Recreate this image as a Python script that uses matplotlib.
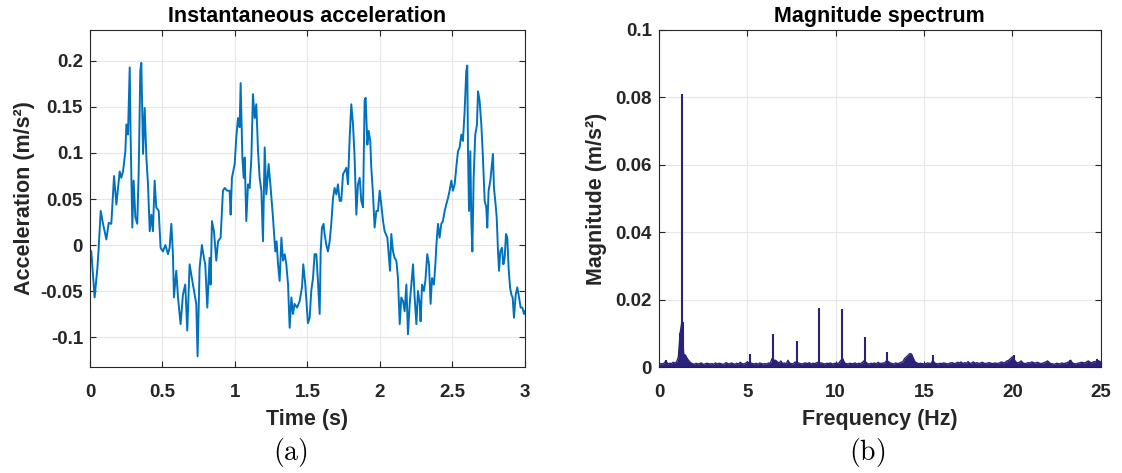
import numpy as np
import matplotlib.pyplot as plt

plt.rcParams['font.family'] = ['Liberation Sans', 'DejaVu Sans']
plt.rcParams['mathtext.fontset'] = 'cm'

# (a) acceleration
t_s = [0.000, 0.009, 0.032, 0.051, 0.060, 0.074, 0.090, 0.113, 0.129, 0.147,
       0.166, 0.182, 0.205, 0.216, 0.228, 0.244, 0.251, 0.262, 0.274, 0.280,
       0.292, 0.301, 0.313, 0.326, 0.336, 0.347, 0.354, 0.366, 0.377, 0.389,
       0.400, 0.412, 0.423, 0.434, 0.446, 0.457, 0.474, 0.487, 0.503, 0.520,
       0.538, 0.549, 0.561, 0.572, 0.579, 0.595, 0.607, 0.625, 0.641, 0.657,
       0.671, 0.687, 0.710, 0.733, 0.742, 0.756, 0.772, 0.786, 0.795, 0.809,
       0.825, 0.832, 0.841, 0.855, 0.871, 0.883, 0.901, 0.917, 0.929, 0.947,
       0.963, 0.970, 0.979, 0.998, 1.009, 1.021, 1.032, 1.039, 1.051, 1.060,
       1.067, 1.078, 1.090, 1.101, 1.113, 1.124, 1.136, 1.147, 1.159, 1.170,
       1.182, 1.193, 1.205, 1.216, 1.232, 1.246, 1.262, 1.278, 1.287, 1.297,
       1.308, 1.320, 1.331, 1.343, 1.354, 1.366, 1.377, 1.389, 1.400, 1.411,
       1.428, 1.446, 1.462, 1.471, 1.485, 1.503, 1.515, 1.526, 1.538, 1.549,
       1.561, 1.572, 1.584, 1.591, 1.600, 1.611, 1.618, 1.630, 1.641, 1.653,
       1.664, 1.676, 1.687, 1.699, 1.710, 1.722, 1.733, 1.745, 1.756, 1.768,
       1.779, 1.791, 1.802, 1.814, 1.825, 1.837, 1.848, 1.860, 1.871, 1.883,
       1.894, 1.901, 1.913, 1.922, 1.933, 1.940, 1.952, 1.963, 1.975, 1.986,
       1.998, 2.009, 2.021, 2.032, 2.051, 2.062, 2.069, 2.078, 2.090, 2.101,
       2.113, 2.124, 2.136, 2.147, 2.159, 2.170, 2.182, 2.193, 2.205, 2.216,
       2.228, 2.239, 2.251, 2.262, 2.274, 2.280, 2.290, 2.303, 2.313, 2.326,
       2.338, 2.349, 2.359, 2.372, 2.382, 2.389, 2.400, 2.411, 2.423, 2.434,
       2.446, 2.457, 2.469, 2.480, 2.492, 2.503, 2.515, 2.526, 2.538, 2.549,
       2.561, 2.572, 2.584, 2.595, 2.602, 2.607, 2.614, 2.623, 2.630, 2.637,
       2.646, 2.657, 2.669, 2.676, 2.687, 2.699, 2.710, 2.722, 2.733, 2.740,
       2.749, 2.761, 2.772, 2.779, 2.786, 2.795, 2.805, 2.814, 2.821, 2.830,
       2.841, 2.851, 2.860, 2.869, 2.878, 2.887, 2.897, 2.906, 2.915, 2.924,
       2.936, 2.947, 2.959, 2.970, 2.982, 2.993, 3.000]
acc = [-0.005, -0.007, -0.057, -0.025, -0.003, 0.037, 0.023, 0.006, 0.024, 0.023,
       0.075, 0.044, 0.080, 0.073, 0.080, 0.102, 0.131, 0.120, 0.193, 0.120,
       0.019, 0.070, 0.030, 0.023, 0.080, 0.189, 0.198, 0.099, 0.149, 0.095,
       0.066, 0.015, 0.033, 0.015, 0.070, 0.041, 0.037, -0.003, -0.007, 0.000,
       -0.010, -0.003, 0.023, -0.010, -0.057, -0.028, -0.057, -0.086, -0.054, -0.043,
       -0.093, -0.021, -0.043, -0.064, -0.121, -0.025, 0.000, -0.014, -0.021, -0.068,
       -0.014, -0.043, 0.026, 0.015, -0.017, 0.004, 0.008, 0.059, 0.062, 0.059,
       0.059, 0.033, 0.073, 0.088, 0.117, 0.138, 0.128, 0.176, 0.095, 0.073,
       0.095, 0.026, 0.066, 0.062, 0.095, 0.164, 0.138, 0.153, 0.102, 0.073,
       0.059, 0.004, 0.106, 0.055, 0.088, 0.062, 0.030, -0.007, 0.004, -0.021,
       -0.039, 0.008, -0.017, -0.010, -0.021, -0.043, -0.090, -0.057, -0.075, -0.064,
       -0.068, -0.061, -0.046, -0.021, -0.043, -0.085, -0.079, -0.050, -0.036, -0.010,
       -0.010, -0.039, -0.075, -0.007, 0.019, 0.023, 0.012, 0.000, -0.007, 0.004,
       0.023, 0.051, 0.062, 0.055, 0.066, 0.048, 0.048, 0.077, 0.080, 0.084,
       0.066, 0.117, 0.153, 0.131, 0.095, 0.033, 0.066, 0.073, 0.048, 0.041,
       0.157, 0.160, 0.109, 0.124, 0.113, 0.084, 0.055, 0.019, 0.037, 0.037,
       0.059, 0.044, 0.026, 0.015, 0.008, -0.014, -0.028, 0.012, -0.007, -0.014,
       -0.017, -0.036, -0.086, -0.057, -0.061, -0.072, -0.043, -0.097, -0.064, -0.043,
       -0.021, -0.057, -0.086, -0.050, -0.064, -0.083, -0.043, -0.050, -0.039, -0.010,
       -0.021, -0.064, -0.036, -0.043, -0.021, 0.000, 0.023, 0.008, 0.023, 0.026,
       0.037, 0.044, 0.051, 0.059, 0.070, 0.059, 0.066, 0.084, 0.102, 0.106,
       0.120, 0.113, 0.146, 0.189, 0.195, 0.102, 0.037, 0.102, 0.026, -0.007,
       0.073, 0.120, 0.131, 0.167, 0.157, 0.131, 0.095, 0.048, 0.041, 0.019,
       0.059, 0.070, 0.088, 0.099, 0.062, 0.048, 0.030, -0.007, -0.028, -0.007,
       -0.003, -0.021, -0.014, 0.012, 0.008, -0.025, -0.046, -0.054, -0.057, -0.079,
       -0.054, -0.046, -0.057, -0.068, -0.068, -0.075, -0.072]

# (b) spectrum: noise floor every 0.1 Hz (units of 1e-4 m/s^2) and the peaks
floor_e4 = [8, 10, 9, 12, 18, 9, 11, 10, 14, 12,
            15, 30, 100, 135, 38, 35, 25, 18, 12, 10,
            8, 11, 9, 10, 12, 8, 9, 11, 10, 9,
            10, 8, 12, 9, 11, 10, 8, 9, 13, 10,
            9, 12, 10, 8, 11, 9, 14, 10, 9, 11,
            15, 12, 12, 10, 9, 11, 8, 12, 10, 9,
            10, 9, 12, 11, 25, 20, 20, 15, 12, 18,
            10, 12, 9, 20, 11, 10, 9, 15, 12, 12,
            10, 9, 11, 12, 10, 13, 9, 11, 10, 12,
            14, 12, 12, 10, 9, 11, 10, 12, 9, 10,
            11, 10, 13, 20, 25, 12, 10, 9, 11, 10,
            10, 12, 9, 11, 10, 13, 18, 15, 10, 9,
            11, 10, 12, 9, 14, 10, 11, 12, 13, 20,
            15, 12, 10, 9, 12, 10, 11, 14, 15, 25,
            30, 35, 40, 38, 25, 15, 12, 10, 11, 10,
            9, 10, 12, 11, 10, 20, 12, 10, 9, 11,
            10, 12, 11, 9, 10, 12, 13, 10, 11, 14,
            12, 15, 10, 13, 11, 16, 10, 12, 15, 11,
            13, 10, 12, 14, 11, 10, 12, 13, 11, 10,
            12, 11, 10, 13, 15, 12, 14, 18, 20, 25,
            30, 22, 15, 12, 14, 18, 12, 10, 11, 13,
            12, 15, 13, 11, 14, 12, 10, 11, 13, 15,
            18, 12, 10, 9, 8, 11, 10, 9, 12, 10,
            11, 13, 15, 20, 12, 10, 9, 11, 12, 14,
            13, 12, 15, 18, 14, 12, 16, 15, 20, 18,
            15]
peak_hz = [0.40, 1.20, 1.28, 1.34, 5.15, 6.47, 7.79, 9.05, 10.36, 11.66,
           12.92, 15.53, 20.10, 23.26, 24.80]
peak_mag = [0.002, 0.010, 0.081, 0.0135, 0.004, 0.0097, 0.0078, 0.0175, 0.0172, 0.009,
            0.0045, 0.0035, 0.0035, 0.002, 0.0025]

freq = np.linspace(0, 25, len(floor_e4))
floor_mag = np.array(floor_e4) * 1e-4

blue = '#0072BD'
navy = '#2a2178'
dark = '#262626'

fig = plt.figure(figsize=(11.22, 4.73), dpi=100)
ax1 = fig.add_axes([0.0802, 0.2241, 0.3877, 0.7125])
ax2 = fig.add_axes([0.5873, 0.2241, 0.3937, 0.7125])

ax1.plot(t_s, acc, color=blue, lw=1.4)
ax1.set_xlim(0, 3)
ax1.set_ylim(-0.1326, 0.2337)
ax1.set_xticks([0, 0.5, 1, 1.5, 2, 2.5, 3])
ax1.set_xticklabels(['0', '0.5', '1', '1.5', '2', '2.5', '3'])
ax1.set_yticks([-0.1, -0.05, 0, 0.05, 0.1, 0.15, 0.2])
ax1.set_yticklabels(['-0.1', '-0.05', '0', '0.05', '0.1', '0.15', '0.2'])
ax1.set_title('Instantaneous acceleration', fontsize=15.5, fontweight='bold', pad=6)
ax1.set_xlabel('Time (s)', fontsize=15.5, fontweight='bold', color=dark, labelpad=6)
ax1.set_ylabel('Acceleration (m/s²)', fontsize=15.5, fontweight='bold', color=dark, labelpad=4)

ax2.fill_between(freq, floor_mag, color=navy, lw=0)
ax2.plot(freq, floor_mag, color=navy, lw=1)
ax2.vlines(peak_hz, 0, peak_mag, color=navy, lw=1.5)
ax2.set_xlim(0, 25)
ax2.set_ylim(0, 0.1)
ax2.set_xticks([0, 5, 10, 15, 20, 25])
ax2.set_yticks([0, 0.02, 0.04, 0.06, 0.08, 0.1])
ax2.set_yticklabels(['0', '0.02', '0.04', '0.06', '0.08', '0.1'])
ax2.set_title('Magnitude spectrum', fontsize=15.5, fontweight='bold', pad=6)
ax2.set_xlabel('Frequency (Hz)', fontsize=15.5, fontweight='bold', color=dark, labelpad=6)
ax2.set_ylabel('Magnitude (m/s²)', fontsize=15.5, fontweight='bold', color=dark, labelpad=6)

for ax in (ax1, ax2):
    ax.grid(True, color='#e6e6e6', lw=0.8)
    ax.set_axisbelow(True)
    ax.tick_params(direction='in', length=4, width=0.8, colors=dark,
                   top=True, right=True, labelsize=13.5)
    ax.tick_params(axis='x', pad=12)
    ax.tick_params(axis='y', pad=5)
    for lab in ax.get_xticklabels() + ax.get_yticklabels():
        lab.set_fontweight('bold')
    for s in ax.spines.values():
        s.set_color(dark)
        s.set_linewidth(0.8)

fig.text(0.2585, 0.044, r'$\mathrm{(a)}$', ha='center', va='center', fontsize=20)
fig.text(0.7727, 0.044, r'$\mathrm{(b)}$', ha='center', va='center', fontsize=20)

fig.savefig('out.png', dpi=100)
